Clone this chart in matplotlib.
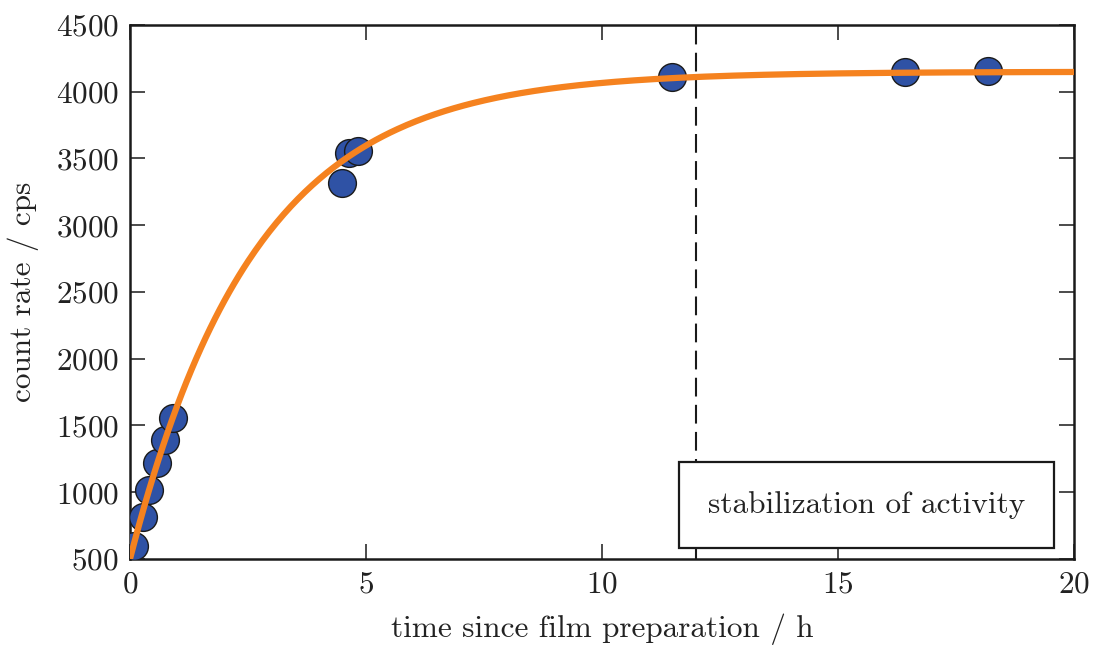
import numpy as np
import matplotlib
matplotlib.use("Agg")
import matplotlib.pyplot as plt

plt.rcParams["font.family"] = "serif"
plt.rcParams["font.serif"] = ["cmr10"]
plt.rcParams["mathtext.fontset"] = "cm"
plt.rcParams["axes.formatter.use_mathtext"] = True

# measured count rates after film preparation
time_h = [0.08, 0.28, 0.40, 0.57, 0.74, 0.91, 4.49, 4.64, 4.83, 11.48, 16.42, 18.18]
count_rate = [595, 815, 1017, 1219, 1391, 1556, 3316, 3541, 3556, 4110, 4148, 4155]

# saturation fit parameters: R(t) = R_sat - (R_sat - R_0) * exp(-t / tau)
fit_r0 = 500.0
fit_rsat = 4150.0
fit_tau = 2.65

stabilization_time = 12.0
x_ticks = [0, 5, 10, 15, 20]
y_ticks = [500, 1000, 1500, 2000, 2500, 3000, 3500, 4000, 4500]

FS = 22.5
INK = "#222222"

fig = plt.figure(figsize=(10.94, 6.46), dpi=100)
ax = fig.add_axes([0.1188, 0.1347, 0.8629, 0.8266])

t = np.linspace(0, 20, 400)
fit = fit_rsat - (fit_rsat - fit_r0) * np.exp(-t / fit_tau)

ax.plot(time_h, count_rate, "o", ms=20, mfc="#2f52a5", mec="#1a1a1a", mew=1.0,
        zorder=3)
ax.plot(t, fit, color="#f5821f", lw=4.5, zorder=4, solid_capstyle="butt")
ax.axvline(stabilization_time, color="#1a1a1a", lw=1.5, ls=(0, (9, 4)), zorder=2)

ax.text(15.6, 905, "stabilization of activity", fontsize=FS, ha="center", va="center",
        color=INK, zorder=6,
        bbox=dict(boxstyle="square,pad=0.93", fc="white", ec="#1a1a1a", lw=1.6))

ax.set_xlim(0, 20)
ax.set_ylim(500, 4500)
ax.set_xticks(x_ticks)
ax.set_yticks(y_ticks)
ax.set_xlabel("time since film preparation / h", fontsize=FS, labelpad=11, color=INK)
ax.set_ylabel("count rate / cps", fontsize=FS, labelpad=12, color=INK)

ax.tick_params(direction="in", length=11, width=1.1, top=True, right=True,
               labelsize=FS, color="#1a1a1a", labelcolor=INK, pad=8)
for s in ax.spines.values():
    s.set_linewidth(1.8)
    s.set_color("#1a1a1a")

fig.savefig("out.png", dpi=100)
